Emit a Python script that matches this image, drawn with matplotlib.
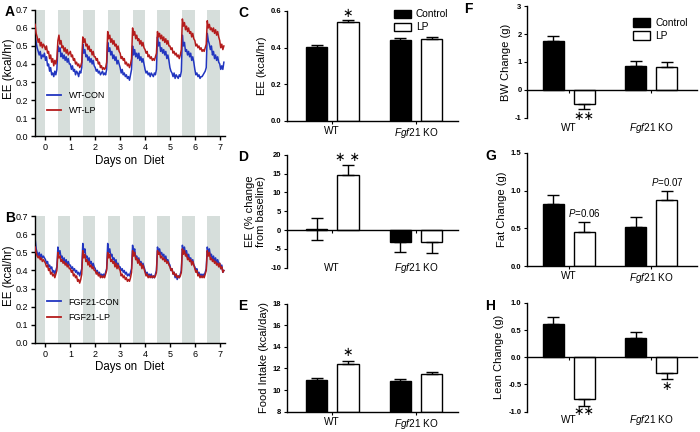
import numpy as np
import matplotlib.pyplot as plt
from matplotlib.patches import Patch
from matplotlib.lines import Line2D

plt.rcParams.update({'font.family': ['Liberation Sans', 'DejaVu Sans'],
                     'mathtext.fontset': 'custom',
                     'mathtext.rm': 'Liberation Sans',
                     'mathtext.it': 'Liberation Sans:italic',
                     'axes.linewidth': 1.0})

BLUE = '#2236c0'
RED = '#b41c1c'
BAND = '#d6dedb'

# hourly EE, first point at -10/24 day; each day row = 12 light h + 12 dark h
hours = np.arange(-10, 173) / 24.0

wt_con = [0.56, 0.52, 0.49, 0.47, 0.45, 0.47, 0.43, 0.45, 0.44, 0.46,
          0.42, 0.44, 0.39, 0.40, 0.36, 0.38, 0.34, 0.35, 0.33, 0.36, 0.34, 0.37,
          0.50, 0.47, 0.49, 0.44, 0.46, 0.43, 0.45, 0.42, 0.44, 0.41, 0.43, 0.40,
          0.40, 0.37, 0.39, 0.36, 0.37, 0.34, 0.36, 0.35, 0.33, 0.36, 0.35, 0.38,
          0.51, 0.46, 0.48, 0.44, 0.45, 0.42, 0.44, 0.41, 0.43, 0.40, 0.42, 0.39,
          0.38, 0.36, 0.37, 0.35, 0.36, 0.34, 0.35, 0.36, 0.34, 0.35, 0.34, 0.37,
          0.52, 0.47, 0.49, 0.45, 0.47, 0.43, 0.45, 0.42, 0.44, 0.40, 0.42, 0.40,
          0.38, 0.35, 0.37, 0.34, 0.35, 0.33, 0.34, 0.32, 0.33, 0.31, 0.34, 0.37,
          0.50, 0.45, 0.48, 0.44, 0.46, 0.43, 0.46, 0.42, 0.44, 0.41, 0.43, 0.40,
          0.37, 0.35, 0.36, 0.34, 0.35, 0.33, 0.35, 0.34, 0.33, 0.35, 0.34, 0.37,
          0.55, 0.50, 0.52, 0.47, 0.49, 0.46, 0.48, 0.45, 0.47, 0.43, 0.45, 0.42,
          0.38, 0.36, 0.35, 0.33, 0.35, 0.32, 0.34, 0.33, 0.32, 0.34, 0.33, 0.36,
          0.56, 0.50, 0.52, 0.47, 0.48, 0.45, 0.47, 0.44, 0.46, 0.42, 0.44, 0.41,
          0.37, 0.34, 0.35, 0.33, 0.34, 0.32, 0.33, 0.33, 0.34, 0.35, 0.36, 0.38,
          0.57, 0.53, 0.51, 0.48, 0.50, 0.45, 0.47, 0.43, 0.45, 0.42, 0.44, 0.41,
          0.40, 0.37, 0.39, 0.37, 0.41]
wt_lp = [0.62, 0.57, 0.55, 0.52, 0.54, 0.50, 0.52, 0.49, 0.51, 0.50,
         0.48, 0.50, 0.46, 0.47, 0.43, 0.45, 0.41, 0.43, 0.39, 0.42, 0.40, 0.43,
         0.53, 0.56, 0.51, 0.53, 0.49, 0.50, 0.47, 0.49, 0.46, 0.48, 0.45, 0.46,
         0.47, 0.44, 0.45, 0.42, 0.43, 0.40, 0.41, 0.39, 0.40, 0.38, 0.39, 0.41,
         0.55, 0.52, 0.54, 0.50, 0.51, 0.48, 0.50, 0.47, 0.48, 0.45, 0.47, 0.44,
         0.44, 0.42, 0.43, 0.40, 0.41, 0.38, 0.39, 0.37, 0.38, 0.37, 0.38, 0.41,
         0.58, 0.54, 0.56, 0.52, 0.54, 0.51, 0.53, 0.50, 0.51, 0.48, 0.50, 0.47,
         0.46, 0.43, 0.44, 0.42, 0.43, 0.40, 0.41, 0.39, 0.40, 0.38, 0.40, 0.43,
         0.60, 0.56, 0.58, 0.54, 0.56, 0.53, 0.54, 0.51, 0.53, 0.50, 0.52, 0.49,
         0.48, 0.46, 0.47, 0.44, 0.45, 0.43, 0.44, 0.42, 0.43, 0.42, 0.44, 0.46,
         0.58, 0.55, 0.57, 0.54, 0.56, 0.53, 0.55, 0.52, 0.54, 0.51, 0.53, 0.50,
         0.50, 0.48, 0.49, 0.46, 0.47, 0.45, 0.46, 0.44, 0.45, 0.43, 0.45, 0.48,
         0.65, 0.61, 0.63, 0.59, 0.61, 0.58, 0.60, 0.57, 0.58, 0.55, 0.57, 0.54,
         0.53, 0.50, 0.51, 0.49, 0.50, 0.48, 0.49, 0.47, 0.48, 0.47, 0.49, 0.51,
         0.64, 0.60, 0.62, 0.59, 0.60, 0.58, 0.60, 0.57, 0.59, 0.56, 0.58, 0.55,
         0.53, 0.49, 0.51, 0.48, 0.50]
ko_con = [0.58, 0.52, 0.50, 0.48, 0.50, 0.47, 0.49, 0.47, 0.48, 0.47,
          0.46, 0.44, 0.45, 0.42, 0.43, 0.41, 0.42, 0.39, 0.40, 0.38, 0.40, 0.42,
          0.53, 0.49, 0.51, 0.47, 0.48, 0.45, 0.47, 0.44, 0.46, 0.43, 0.45, 0.43,
          0.43, 0.41, 0.42, 0.40, 0.41, 0.39, 0.40, 0.38, 0.39, 0.37, 0.39, 0.41,
          0.55, 0.50, 0.52, 0.47, 0.48, 0.45, 0.47, 0.44, 0.45, 0.42, 0.44, 0.42,
          0.41, 0.39, 0.40, 0.38, 0.39, 0.37, 0.38, 0.37, 0.38, 0.37, 0.39, 0.41,
          0.55, 0.50, 0.52, 0.48, 0.49, 0.46, 0.47, 0.44, 0.46, 0.43, 0.44, 0.42,
          0.42, 0.40, 0.41, 0.39, 0.40, 0.38, 0.39, 0.37, 0.38, 0.37, 0.39, 0.41,
          0.54, 0.50, 0.52, 0.47, 0.48, 0.45, 0.47, 0.44, 0.45, 0.42, 0.44, 0.42,
          0.40, 0.38, 0.39, 0.37, 0.38, 0.37, 0.38, 0.36, 0.37, 0.36, 0.38, 0.40,
          0.53, 0.50, 0.52, 0.49, 0.50, 0.48, 0.49, 0.46, 0.48, 0.45, 0.46, 0.44,
          0.43, 0.40, 0.41, 0.38, 0.39, 0.36, 0.38, 0.35, 0.37, 0.36, 0.38, 0.40,
          0.54, 0.51, 0.53, 0.49, 0.51, 0.47, 0.49, 0.46, 0.47, 0.44, 0.46, 0.43,
          0.42, 0.40, 0.41, 0.38, 0.39, 0.37, 0.38, 0.37, 0.38, 0.37, 0.39, 0.41,
          0.53, 0.50, 0.52, 0.48, 0.49, 0.46, 0.48, 0.45, 0.47, 0.44, 0.46, 0.44,
          0.44, 0.41, 0.43, 0.39, 0.40]
ko_lp = [0.53, 0.50, 0.48, 0.47, 0.48, 0.46, 0.47, 0.45, 0.46, 0.45,
         0.44, 0.42, 0.43, 0.40, 0.41, 0.38, 0.39, 0.37, 0.38, 0.36, 0.38, 0.40,
         0.50, 0.47, 0.48, 0.45, 0.46, 0.44, 0.45, 0.43, 0.44, 0.42, 0.43, 0.41,
         0.41, 0.39, 0.40, 0.37, 0.38, 0.36, 0.37, 0.34, 0.35, 0.33, 0.35, 0.38,
         0.51, 0.47, 0.49, 0.45, 0.46, 0.43, 0.45, 0.42, 0.43, 0.41, 0.42, 0.40,
         0.40, 0.38, 0.39, 0.37, 0.38, 0.36, 0.37, 0.36, 0.37, 0.36, 0.38, 0.40,
         0.50, 0.47, 0.49, 0.45, 0.46, 0.44, 0.45, 0.42, 0.44, 0.41, 0.43, 0.41,
         0.40, 0.37, 0.38, 0.36, 0.37, 0.35, 0.36, 0.34, 0.35, 0.34, 0.36, 0.39,
         0.51, 0.48, 0.50, 0.46, 0.47, 0.44, 0.46, 0.43, 0.44, 0.41, 0.43, 0.41,
         0.39, 0.37, 0.38, 0.36, 0.37, 0.36, 0.37, 0.36, 0.37, 0.36, 0.37, 0.39,
         0.51, 0.49, 0.50, 0.47, 0.48, 0.46, 0.47, 0.45, 0.46, 0.44, 0.45, 0.43,
         0.42, 0.40, 0.41, 0.38, 0.39, 0.37, 0.38, 0.36, 0.37, 0.36, 0.37, 0.39,
         0.52, 0.49, 0.51, 0.48, 0.49, 0.46, 0.47, 0.45, 0.46, 0.43, 0.45, 0.43,
         0.41, 0.39, 0.40, 0.37, 0.38, 0.36, 0.37, 0.36, 0.37, 0.36, 0.38, 0.40,
         0.51, 0.48, 0.50, 0.46, 0.47, 0.45, 0.46, 0.44, 0.45, 0.43, 0.44, 0.42,
         0.44, 0.41, 0.42, 0.39, 0.40]

# bar panels: WT-Control, WT-LP, KO-Control, KO-LP
groups = ['WT', r'$\it{Fgf21}$ KO']
ee_mean = [0.405, 0.541, 0.443, 0.448]
ee_sem = [0.010, 0.010, 0.010, 0.010]
pct_mean = [0.4, 14.5, -3.2, -3.2]
pct_sem = [2.9, 2.8, 2.7, 2.8]
food_mean = [10.9, 12.45, 10.85, 11.48]
food_sem = [0.2, 0.22, 0.2, 0.22]
bw_mean = [1.75, -0.51, 0.87, 0.82]
bw_sem = [0.19, 0.18, 0.17, 0.17]
fat_mean = [0.82, 0.45, 0.52, 0.87]
fat_sem = [0.12, 0.13, 0.13, 0.13]
lean_mean = [0.62, -0.76, 0.345, -0.28]
lean_sem = [0.125, 0.13, 0.125, 0.12]

xpos = np.array([0, 1, 2.67, 3.67])
centers = [0.5, 3.17]

fig = plt.figure(figsize=(7, 4.32), dpi=100)


def series_panel(rect, con, lp, labels, letter):
    ax = fig.add_axes(rect)
    for k in range(-1, 7):
        ax.axvspan(k + 0.5, k + 1.0, color=BAND, lw=0, zorder=0)
    ax.plot(hours, con, color=BLUE, lw=1.1, label=labels[0], zorder=2)
    ax.plot(hours, lp, color=RED, lw=1.1, label=labels[1], zorder=3)
    ax.set_xlim(-0.42, 7.2)
    ax.set_ylim(0, 0.7)
    ax.set_xticks(range(8))
    ax.set_yticks(np.arange(0, 0.71, 0.1))
    ax.set_yticklabels(['%.1f' % v for v in np.arange(0, 0.71, 0.1)])
    ax.tick_params(labelsize=6.5, length=3, width=1, pad=2)
    ax.spines['top'].set_visible(False)
    ax.spines['right'].set_visible(False)
    ax.set_xlabel('Days on  Diet', fontsize=8.3, labelpad=2)
    ax.set_ylabel('EE (kcal/hr)', fontsize=8.3)
    ax.yaxis.set_label_coords(-0.105, 0.53)
    handles = [Line2D([], [], color=BLUE, lw=1.3), Line2D([], [], color=RED, lw=1.3)]
    ax.legend(handles, labels, loc='lower left', bbox_to_anchor=(0.02, 0.1),
              frameon=False, fontsize=6.5, handlelength=1.6, labelspacing=0.7)
    fig.text(rect[0] - 0.043, rect[1] + rect[3] + 0.012, letter, fontsize=10,
             fontweight='bold', va='top')
    return ax


def bar_panel(rect, mean, sem, ylim, yticks, fmt, ylabel, letter, xlim,
              zero_axis=False, label_y=None, letter_dx=0.1):
    ax = fig.add_axes(rect)
    base = ylim[0] if ylim[0] > 0 else 0
    for i in range(4):
        fc = 'black' if i % 2 == 0 else 'white'
        ax.bar(xpos[i], mean[i] - base, width=0.68, bottom=base, color=fc,
               edgecolor='black', linewidth=1.0, zorder=2)
        if abs(mean[i]) < sem[i]:
            err = [[sem[i]], [sem[i]]]
        elif mean[i] >= 0:
            err = [[0], [sem[i]]]
        else:
            err = [[sem[i]], [0]]
        ax.errorbar(xpos[i], mean[i], yerr=err, fmt='none', ecolor='black',
                    elinewidth=1.0, capsize=4, capthick=1.0, zorder=3)
    ax.set_xlim(*xlim)
    ax.set_ylim(*ylim)
    ax.set_yticks(yticks)
    ax.set_yticklabels([fmt % v for v in yticks], fontweight='bold')
    ax.tick_params(axis='y', labelsize=5.5, length=2.5, width=0.8, pad=1.5)
    ax.spines['top'].set_visible(False)
    ax.spines['right'].set_visible(False)
    ax.set_xticks(centers)
    if zero_axis:
        ax.spines['bottom'].set_position(('data', 0))
        ax.set_xticklabels([])
        ax.tick_params(axis='x', length=2.5, width=0.8)
        for c, g in zip(centers, groups):
            ax.text(c, label_y, g, transform=ax.get_xaxis_transform(),
                    ha='center', va='center', fontsize=7.2)
    else:
        ax.set_xticklabels(groups)
        ax.tick_params(axis='x', labelsize=7.2, length=2.5, width=0.8, pad=1)
    ax.set_ylabel(ylabel, fontsize=8, labelpad=3)
    fig.text(rect[0] - letter_dx, rect[1] + rect[3] + 0.01, letter, fontsize=10,
             fontweight='bold', va='top')
    return ax


def legend_boxes(ax, anchor):
    handles = [Patch(facecolor='black', edgecolor='black'),
               Patch(facecolor='white', edgecolor='black', linewidth=1.0)]
    ax.legend(handles, ['Control', 'LP'], loc='upper left', bbox_to_anchor=anchor,
              frameon=False, fontsize=7.3, handlelength=1.7, handleheight=0.9,
              labelspacing=0.3, handletextpad=0.5, borderaxespad=0)


def star(ax, x, y, s):
    ax.text(x, y, s, ha='center', va='center', fontsize=9,
            family='DejaVu Sans', clip_on=False)


series_panel([0.05, 0.685, 0.271, 0.292], wt_con, wt_lp, ['WT-CON', 'WT-LP'], 'A')
series_panel([0.05, 0.207, 0.271, 0.292], ko_con, ko_lp, ['FGF21-CON', 'FGF21-LP'], 'B')

bx = 0.41
bw = 0.244
ax_c = bar_panel([bx, 0.72, bw, 0.255], ee_mean, ee_sem, (0, 0.6), [0, 0.2, 0.4, 0.6],
                 '%.1f', 'EE (kcal/hr)', 'C', (-0.94, 4.5), letter_dx=0.07)
legend_boxes(ax_c, (0.6, 1.05))
star(ax_c, xpos[1], 0.585, '\u2217')

ax_d = bar_panel([bx, 0.38, bw, 0.262], pct_mean, pct_sem, (-10, 20),
                 [-10, -5, 0, 5, 10, 15, 20], '%d', 'EE (% change\nfrom baseline)', 'D',
                 (-0.94, 4.5), zero_axis=True, label_y=0.0, letter_dx=0.07)
star(ax_d, xpos[1], 19.3, '\u2217 \u2217')

ax_e = bar_panel([bx, 0.047, bw, 0.25], food_mean, food_sem, (8, 18),
                 [8, 10, 12, 14, 16, 18], '%d', 'Food Intake (kcal/day)', 'E',
                 (-0.94, 4.5), letter_dx=0.07)
star(ax_e, xpos[1], 13.5, '\u2217')

fx = 0.753
fw = 0.243
ax_f = bar_panel([fx, 0.727, fw, 0.259], bw_mean, bw_sem, (-1, 3), [-1, 0, 1, 2, 3],
                 '%d', 'BW Change (g)', 'F', (-0.85, 4.65), zero_axis=True,
                 label_y=-0.09, letter_dx=0.09)
legend_boxes(ax_f, (0.6, 0.93))
star(ax_f, xpos[1], -0.95, '\u2217\u2217')

ax_g = bar_panel([fx, 0.384, fw, 0.262], fat_mean, fat_sem, (0, 1.5),
                 [0, 0.5, 1.0, 1.5], '%.1f', 'Fat Change (g)', 'G', (-0.85, 4.65),
                 letter_dx=0.06)
ax_g.text(xpos[1], 0.7, r'$\it{P}$=0.06', ha='center', va='center', fontsize=7)
ax_g.text(xpos[3], 1.11, r'$\it{P}$=0.07', ha='center', va='center', fontsize=7)

ax_h = bar_panel([fx, 0.047, fw, 0.252], lean_mean, lean_sem, (-1, 1),
                 [-1.0, -0.5, 0, 0.5, 1.0], '%.1f', 'Lean Change (g)', 'H',
                 (-0.85, 4.65), zero_axis=True, label_y=-0.075, letter_dx=0.06)
star(ax_h, xpos[1], -0.99, '\u2217\u2217')
star(ax_h, xpos[3], -0.53, '\u2217')

fig.savefig('out.png', dpi=100)
